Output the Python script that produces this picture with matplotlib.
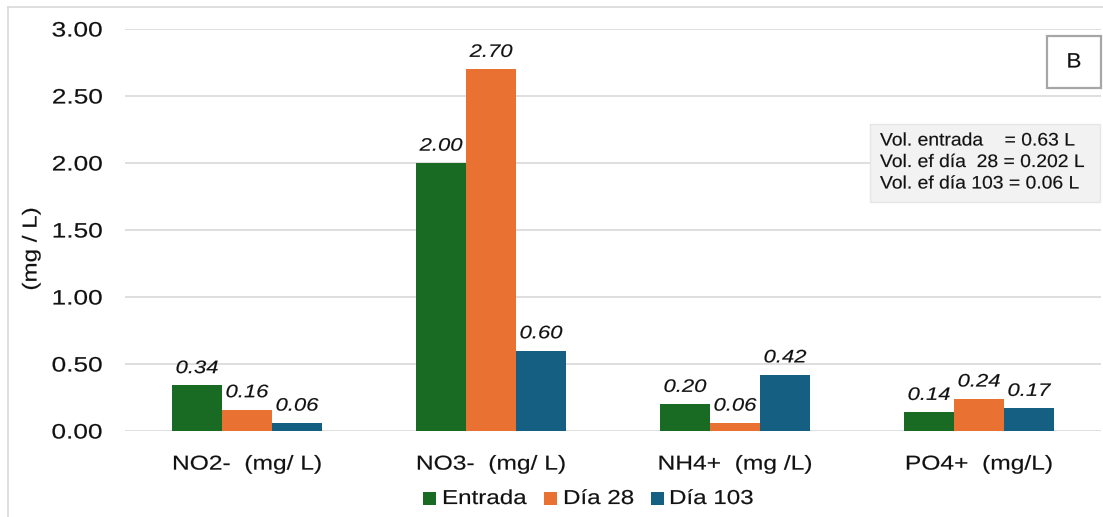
import matplotlib
matplotlib.use("Agg")
import matplotlib.pyplot as plt
import numpy as np
from matplotlib.lines import Line2D
from matplotlib.patches import Rectangle
from matplotlib.patheffects import AbstractPathEffect
from matplotlib.transforms import Affine2D

plt.rcParams["font.family"] = ["Liberation Sans", "DejaVu Sans"]

categories = ["NO2-  (mg/ L)", "NO3-  (mg/ L)", "NH4+  (mg /L)", "PO4+  (mg/L)"]
series_names = ["Entrada", "Día 28", "Día 103"]
entrada = [0.34, 2.00, 0.20, 0.14]
dia28 = [0.16, 2.70, 0.06, 0.24]
dia103 = [0.06, 0.60, 0.42, 0.17]
yticks = [0.0, 0.5, 1.0, 1.5, 2.0, 2.5, 3.0]
colors = ["#196B24", "#E97132", "#156082"]
note_lines = ["Vol. entrada    = 0.63 L", "Vol. ef día  28 = 0.202 L", "Vol. ef día 103 = 0.06 L"]


class WideText(AbstractPathEffect):
    """Draws text with glyphs widened along the reading direction."""

    def __init__(self, sx=1.22, anchor="center", weight=0.12):
        super().__init__((0, 0))
        self._sx = sx
        self._anchor = anchor
        self._weight = weight

    def draw_path(self, renderer, gc, tpath, affine, rgbFace=None):
        if self._anchor == "left":
            x0 = 0.0
        else:
            ext = tpath.get_extents()
            x0 = ext.x1 if self._anchor == "right" else 0.5 * (ext.x0 + ext.x1)
        widen = Affine2D().translate(-x0, 0).scale(self._sx, 1).translate(x0, 0)
        gc0 = renderer.new_gc()
        gc0.copy_properties(gc)
        if rgbFace is not None:
            gc0.set_foreground(rgbFace)
        gc0.set_linewidth(self._weight)
        renderer.draw_path(gc0, tpath, widen + affine, rgbFace)
        gc0.restore()


TXT = "#111111"
W, H = 1103, 517
fig = plt.figure(figsize=(W / 100, H / 100), dpi=100)
ax = fig.add_axes([125 / W, (H - 431) / H, 976 / W, 402 / H])

x = np.arange(len(categories))
bw = 0.205
for i, (vals, name, col) in enumerate(zip([entrada, dia28, dia103], series_names, colors)):
    pos = x + (i - 1) * bw
    ax.bar(pos, vals, width=bw, color=col, label=name, zorder=3)
    for px, v in zip(pos, vals):
        ax.annotate(f"{v:.2f}", (px, v), xytext=(0, 6), textcoords="offset points",
                    ha="center", va="bottom", fontsize=13, style="italic", color=TXT,
                    path_effects=[WideText(1.22)])

ax.set_xlim(-0.5, len(categories) - 0.5)
ax.set_ylim(0, 3)
ax.set_yticks(yticks)
ax.set_yticklabels([f"{t:.2f}" for t in yticks], fontsize=15,
                   path_effects=[WideText(1.26, "right")])
ax.set_xticks(x)
ax.set_xticklabels(categories, fontsize=14.5, path_effects=[WideText(1.22)])
ax.tick_params(axis="both", length=0, colors=TXT)
ax.tick_params(axis="y", pad=16)
ax.tick_params(axis="x", pad=17)
ax.grid(axis="y", color="#D9D9D9", linewidth=1.2, zorder=0)
for s in ax.spines.values():
    s.set_visible(False)

fig.text(31 / W, 1 - 249 / H, "(mg / L)", rotation=90, ha="center", va="center",
         fontsize=14.5, color=TXT, path_effects=[WideText(1.2)])

# legend: square keys followed by series names
key_x = [423, 544, 651]
text_x = [442, 563, 669]
leg_y = 498.5
for kx, tx, name, col in zip(key_x, text_x, series_names, colors):
    fig.patches.append(Rectangle((kx / W, 1 - (leg_y + 6.5) / H), 12.5 / W, 13 / H,
                                 transform=fig.transFigure, facecolor=col, edgecolor="none"))
    fig.text(tx / W, 1 - leg_y / H, name, ha="left", va="center", fontsize=14.5, color=TXT,
             path_effects=[WideText(1.2, "left")])

# panel letter box
fig.patches.append(Rectangle((1047 / W, 1 - 88 / H), 54 / W, 52 / H, transform=fig.transFigure,
                             facecolor="white", edgecolor="#A6A6A6", linewidth=1.6, zorder=5))
fig.text(1074 / W, 1 - 62 / H, "B", ha="center", va="center", fontsize=15, color=TXT,
         zorder=6, path_effects=[WideText(1.08)])

# volume note box
fig.patches.append(Rectangle((870 / W, 1 - 202 / H), 230 / W, 78 / H, transform=fig.transFigure,
                             facecolor="#F2F2F2", edgecolor="#E6E6E6", linewidth=1.0, zorder=5))
for k, line in enumerate(note_lines):
    fig.text(880 / W, 1 - (141 + k * 21.5) / H, line, ha="left", va="center",
             fontsize=13, color=TXT, zorder=6, path_effects=[WideText(1.07, "left")])

# outer frame
fig.lines.append(Line2D([8 / W, 8 / W], [0, 1 - 7 / H], transform=fig.transFigure,
                        color="#D9D9D9", linewidth=1.2))
fig.lines.append(Line2D([8 / W, 1], [1 - 7 / H, 1 - 7 / H], transform=fig.transFigure,
                        color="#D9D9D9", linewidth=1.2))

fig.savefig("out.png", dpi=100, facecolor="white")
